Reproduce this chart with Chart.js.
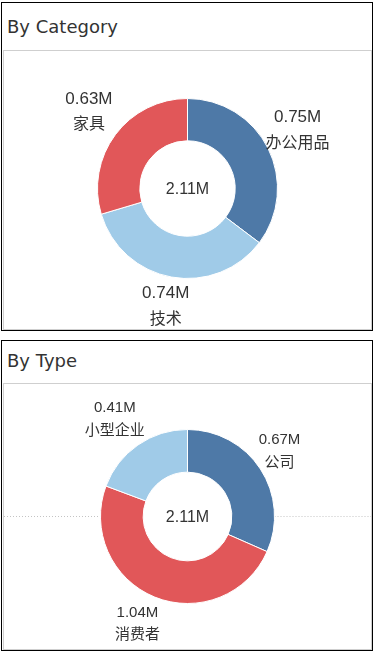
<!DOCTYPE html>
<html>
<head>
<meta charset="utf-8">
<script src="https://cdn.jsdelivr.net/npm/chart.js@4.4.0/dist/chart.umd.min.js"></script>
<style>
  body { margin: 0; background: #fff; width: 377px; height: 657px; position: relative; font-family: "DejaVu Sans", sans-serif; }
  .panel { position: absolute; left: 1px; width: 372px; box-sizing: border-box; border: 1px solid #000; background: #fff; }
  .title { position: absolute; left: 5px; top: 0; font-size: 18px; color: #333; }
  .box { position: absolute; left: 1px; width: 369px; box-sizing: border-box; border: 1px solid #cfcfcf; }
  .box canvas { display: block; }
</style>
</head>
<body>

<div class="panel" style="top:2px;height:329px;">
  <div class="title" style="height:47px;line-height:48px;">By Category</div>
  <div class="box" style="top:47px;height:280px;"><canvas id="catChart"></canvas></div>
</div>

<div class="panel" style="top:340px;height:311px;">
  <div class="title" style="height:42px;line-height:40px;">By Type</div>
  <div class="box" style="top:42px;height:267px;"><canvas id="typeChart"></canvas></div>
</div>

<script>
// data, in millions
const categoryLabels = ['办公用品', '技术', '家具'];
const categoryValues = [0.746, 0.742, 0.626];

const typeLabels = ['公司', '消费者', '小型企业'];
const typeValues = [0.668, 1.037, 0.408];

const blue = '#4e79a7';
const lightBlue = '#a0cbe8';
const red = '#e15759';

// value + name outside each slice, total in the hole
const sliceLabels = {
    id: 'sliceLabels',
    afterDatasetsDraw(chart, args, opts) {
        const ctx = chart.ctx;
        const meta = chart.getDatasetMeta(0);
        const values = chart.data.datasets[0].data;
        ctx.save();
        ctx.fillStyle = '#333';
        ctx.textAlign = 'center';
        ctx.textBaseline = 'middle';
        let cx = 0, cy = 0;
        meta.data.forEach((arc, i) => {
            const p = arc.getProps(['x', 'y', 'startAngle', 'endAngle', 'outerRadius'], true);
            cx = p.x; cy = p.y;
            const mid = (p.startAngle + p.endAngle) / 2;
            const r = p.outerRadius + opts.distance;
            const x = p.x + Math.cos(mid) * r + opts.dx;
            const y = p.y + Math.sin(mid) * r + opts.dy;
            ctx.font = opts.valueFont;
            ctx.fillText(values[i].toFixed(2) + 'M', x, y - opts.gap / 2);
            ctx.font = opts.nameFont;
            ctx.fillText(chart.data.labels[i], x, y + opts.gap / 2);
        });
        const total = values.reduce((a, b) => a + b, 0);
        ctx.font = '16px "Liberation Sans", Arial, sans-serif';
        ctx.fillText(total.toFixed(2) + 'M', cx, cy + 1);
        ctx.restore();
    }
};

// dotted zero line behind the donut
const dottedLine = {
    id: 'dottedLine',
    beforeDatasetsDraw(chart, args, opts) {
        if (!opts.show) return;
        const arc = chart.getDatasetMeta(0).data[0];
        const p = arc.getProps(['x', 'y', 'outerRadius'], true);
        const ctx = chart.ctx;
        const y = Math.round(p.y) - 0.5;
        ctx.save();
        ctx.strokeStyle = '#c4c4c4';
        ctx.lineWidth = 1;
        ctx.setLineDash([1, 2]);
        ctx.beginPath();
        ctx.moveTo(0, y);
        ctx.lineTo(p.x - p.outerRadius, y);
        ctx.moveTo(p.x + p.outerRadius, y);
        ctx.lineTo(chart.width, y);
        ctx.stroke();
        ctx.restore();
    }
};

function makeDonut(id, labels, values, colors, cutout, padding, labelOpts, dotted) {
    return new Chart(document.getElementById(id), {
        type: 'doughnut',
        data: {
            labels: labels,
            datasets: [{
                data: values,
                backgroundColor: colors,
                borderColor: '#ffffff',
                borderWidth: 1
            }]
        },
        options: {
            responsive: true,
            maintainAspectRatio: false,
            animation: false,
            cutout: cutout,
            layout: { padding: padding },
            plugins: {
                legend: { display: false },
                tooltip: { enabled: false },
                sliceLabels: labelOpts,
                dottedLine: { show: dotted }
            }
        },
        plugins: [dottedLine, sliceLabels]
    });
}

makeDonut('catChart', categoryLabels, categoryValues, [blue, lightBlue, red], '53%',
    { top: 47, bottom: 50, left: 0, right: 0 },
    { distance: 33, gap: 24, dx: 0, dy: -4,
      valueFont: '17px "Liberation Sans", Arial, sans-serif',
      nameFont: '16px "Noto Sans CJK SC", sans-serif' },
    false);

makeDonut('typeChart', typeLabels, typeValues, [blue, red, lightBlue], '51%',
    { top: 45, bottom: 45, left: 0, right: 0 },
    { distance: 30, gap: 21, dx: -6, dy: -2,
      valueFont: '15px "Liberation Sans", Arial, sans-serif',
      nameFont: '15px "Noto Sans CJK SC", sans-serif' },
    true);
</script>
</body>
</html>
